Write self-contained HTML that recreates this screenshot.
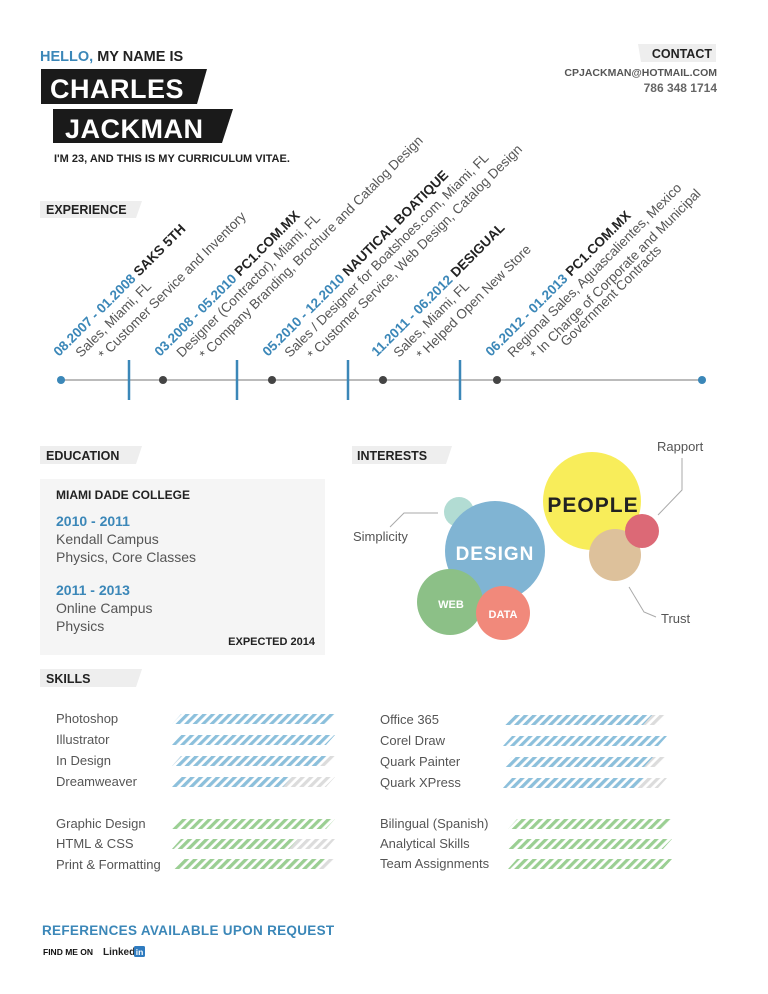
<!DOCTYPE html>
<html><head><meta charset="utf-8"><style>
html,body{margin:0;padding:0;background:#fff}
svg{display:block;font-family:"Liberation Sans",sans-serif}
.b{font-weight:bold}
.g{fill:#555}
</style></head><body>
<svg width="768" height="994" viewBox="0 0 768 994" xmlns="http://www.w3.org/2000/svg">
<defs>
<pattern id="pb" width="6" height="6" patternUnits="userSpaceOnUse" patternTransform="rotate(45)"><rect width="3.2" height="6" fill="#8cc0dc"/></pattern>
<pattern id="pg" width="6" height="6" patternUnits="userSpaceOnUse" patternTransform="rotate(45)"><rect width="3.2" height="6" fill="#9bcf93"/></pattern>
<pattern id="pn" width="6" height="6" patternUnits="userSpaceOnUse" patternTransform="rotate(45)"><rect width="3.2" height="6" fill="#dcdcdc"/></pattern>
</defs>

<!-- header -->
<text x="40" y="61" font-size="14.5" class="b"><tspan fill="#3b87b8">HELLO,</tspan><tspan fill="#222"> MY NAME IS</tspan></text>
<polygon points="41,69 207,69 197,104 41,104" fill="#1a1a1a"/>
<text x="50" y="98" font-size="27" class="b" fill="#fff" letter-spacing="0.5">CHARLES</text>
<polygon points="53,109 233,109 222,143 53,143" fill="#1a1a1a"/>
<text x="65" y="138" font-size="27" class="b" fill="#fff" letter-spacing="0.5">JACKMAN</text>
<text x="54" y="162" font-size="11" class="b" fill="#222">I'M 23, AND THIS IS MY CURRICULUM VITAE.</text>

<polygon points="638,44 716,44 716,62 641,62" fill="#eee"/>
<text x="712" y="58" font-size="12.5" class="b" fill="#222" text-anchor="end">CONTACT</text>
<text x="717" y="76" font-size="10.5" class="b" fill="#555" text-anchor="end">CPJACKMAN@HOTMAIL.COM</text>
<text x="717" y="92" font-size="12" class="b" fill="#666" text-anchor="end">786 348 1714</text>

<!-- section headers -->
<polygon points="40,201 142,201 136,218 40,218" fill="#eee"/>
<text x="46" y="214" font-size="12.5" class="b" fill="#222">EXPERIENCE</text>
<polygon points="40,446 142,446 136,464 40,464" fill="#eee"/>
<text x="46" y="460" font-size="12.5" class="b" fill="#222">EDUCATION</text>
<polygon points="352,446 452,446 446,464 352,464" fill="#eee"/>
<text x="357" y="460" font-size="12.5" class="b" fill="#222">INTERESTS</text>
<polygon points="40,669 142,669 136,687 40,687" fill="#eee"/>
<text x="46" y="683" font-size="12.5" class="b" fill="#222">SKILLS</text>

<!-- experience rotated -->
<g font-size="13.5">
<text transform="translate(59,357) rotate(-45)" class="b"><tspan fill="#3b87b8">08.2007 - 01.2008 </tspan><tspan fill="#222">SAKS 5TH</tspan></text>
<text transform="translate(81,358) rotate(-45)" class="g">Sales, Miami, FL</text>
<text transform="translate(104,360) rotate(-45)" class="g">* Customer Service and Inventory</text>

<text transform="translate(160,357) rotate(-45)" class="b"><tspan fill="#3b87b8">03.2008 - 05.2010 </tspan><tspan fill="#222">PC1.COM.MX</tspan></text>
<text transform="translate(182,358) rotate(-45)" class="g">Designer (Contractor), Miami, FL</text>
<text transform="translate(205,360) rotate(-45)" class="g">* Company Branding, Brochure and Catalog Design</text>

<text transform="translate(268,357) rotate(-45)" class="b"><tspan fill="#3b87b8">05.2010 - 12.2010 </tspan><tspan fill="#222">NAUTICAL BOATIQUE</tspan></text>
<text transform="translate(290,358) rotate(-45)" class="g">Sales / Designer for Boatshoes.com, Miami, FL</text>
<text transform="translate(313,360) rotate(-45)" class="g">* Customer Service, Web Design, Catalog Design</text>

<text transform="translate(377,357) rotate(-45)" class="b"><tspan fill="#3b87b8">11.2011 - 06.2012 </tspan><tspan fill="#222">DESIGUAL</tspan></text>
<text transform="translate(399,358) rotate(-45)" class="g">Sales, Miami, FL</text>
<text transform="translate(422,360) rotate(-45)" class="g">* Helped Open New Store</text>

<text transform="translate(491,357) rotate(-45)" class="b"><tspan fill="#3b87b8">06.2012 - 01.2013 </tspan><tspan fill="#222">PC1.COM.MX</tspan></text>
<text transform="translate(513,358) rotate(-45)" class="g">Regional Sales, Aguascalientes, Mexico</text>
<text transform="translate(536,360) rotate(-45)" class="g">* In Charge of Corporate and Municipal</text>
<text transform="translate(566,347) rotate(-45)" class="g">Government Contracts</text>
</g>

<!-- timeline -->
<line x1="61" y1="380" x2="702" y2="380" stroke="#bbb" stroke-width="2"/>
<g stroke="#3b87b8" stroke-width="2.5">
<line x1="129" y1="360" x2="129" y2="400"/><line x1="237" y1="360" x2="237" y2="400"/>
<line x1="348" y1="360" x2="348" y2="400"/><line x1="460" y1="360" x2="460" y2="400"/>
</g>
<circle cx="61" cy="380" r="4" fill="#3b87b8"/><circle cx="702" cy="380" r="4" fill="#3b87b8"/>
<g fill="#444"><circle cx="163" cy="380" r="4"/><circle cx="272" cy="380" r="4"/><circle cx="383" cy="380" r="4"/><circle cx="497" cy="380" r="4"/></g>

<!-- education -->
<rect x="40" y="479" width="285" height="176" fill="#f5f5f5"/>
<text x="56" y="499" font-size="12" class="b" fill="#222">MIAMI DADE COLLEGE</text>
<text x="56" y="526" font-size="14" class="b" fill="#3b87b8">2010 - 2011</text>
<text x="56" y="544" font-size="14" class="g">Kendall Campus</text>
<text x="56" y="562" font-size="14" class="g">Physics, Core Classes</text>
<text x="56" y="595" font-size="14" class="b" fill="#3b87b8">2011 - 2013</text>
<text x="56" y="613" font-size="14" class="g">Online Campus</text>
<text x="56" y="631" font-size="14" class="g">Physics</text>
<text x="315" y="645" font-size="11" class="b" fill="#222" text-anchor="end">EXPECTED 2014</text>

<!-- interests -->
<g opacity="0.85">
<circle cx="459" cy="512" r="15" fill="#a5d6cc"/>
<circle cx="495" cy="551" r="50" fill="#6aa7cc"/>
<circle cx="450" cy="602" r="33" fill="#78b673"/>
<circle cx="503" cy="613" r="27" fill="#ef7565"/>
<circle cx="592" cy="501" r="49" fill="#f7ea3e"/>
<circle cx="615" cy="555" r="26" fill="#d8b78a"/>
<circle cx="642" cy="531" r="17" fill="#d6505f"/>
</g>
<text x="495" y="560" font-size="19" class="b" fill="#fff" text-anchor="middle" letter-spacing="1">DESIGN</text>
<text x="451" y="608" font-size="11" class="b" fill="#fff" text-anchor="middle">WEB</text>
<text x="503" y="618" font-size="11" class="b" fill="#fff" text-anchor="middle">DATA</text>
<text x="593" y="512" font-size="21" class="b" fill="#222" text-anchor="middle" letter-spacing="1">PEOPLE</text>
<g stroke="#aaa" stroke-width="1" fill="none">
<polyline points="438,513 404,513 390,527"/>
<polyline points="658,515 682,490 682,458"/>
<polyline points="629,587 644,612 656,617"/>
</g>
<text x="353" y="541" font-size="13" class="g">Simplicity</text>
<text x="657" y="451" font-size="13" class="g">Rapport</text>
<text x="661" y="623" font-size="13" class="g">Trust</text>

<!-- skills -->
<g font-size="13" class="g">
<text x="56" y="723">Photoshop</text><text x="56" y="744">Illustrator</text><text x="56" y="765">In Design</text><text x="56" y="786">Dreamweaver</text>
<text x="56" y="828">Graphic Design</text><text x="56" y="848">HTML &amp; CSS</text><text x="56" y="869">Print &amp; Formatting</text>
<text x="380" y="724">Office 365</text><text x="380" y="745">Corel Draw</text><text x="380" y="766">Quark Painter</text><text x="380" y="787">Quark XPress</text>
<text x="380" y="828">Bilingual (Spanish)</text><text x="380" y="848">Analytical Skills</text><text x="380" y="868">Team Assignments</text>
</g>
<g>
<polygon points="172,724 181,714 335,714 326,724" fill="url(#pb)"/>
<polygon points="172,745 181,735 335,735 326,745" fill="url(#pb)"/>
<polygon points="172,766 181,756 335,756 326,766" fill="url(#pn)"/><polygon points="172,766 181,756 327,756 318,766" fill="url(#pb)"/>
<polygon points="172,787 181,777 335,777 326,787" fill="url(#pn)"/><polygon points="172,787 181,777 292,777 283,787" fill="url(#pb)"/>
<polygon points="172,829 181,819 335,819 326,829" fill="url(#pg)"/>
<polygon points="172,849 181,839 335,839 326,849" fill="url(#pn)"/><polygon points="172,849 181,839 298,839 289,849" fill="url(#pg)"/>
<polygon points="172,869 181,859 335,859 326,869" fill="url(#pn)"/><polygon points="172,869 181,859 325,859 316,869" fill="url(#pg)"/>
<polygon points="503,725 512,715 667,715 658,725" fill="url(#pn)"/><polygon points="503,725 512,715 652,715 643,725" fill="url(#pb)"/>
<polygon points="503,746 512,736 667,736 658,746" fill="url(#pb)"/>
<polygon points="503,767 512,757 667,757 658,767" fill="url(#pn)"/><polygon points="503,767 512,757 653,757 644,767" fill="url(#pb)"/>
<polygon points="503,788 512,778 667,778 658,788" fill="url(#pn)"/><polygon points="503,788 512,778 646,778 637,788" fill="url(#pb)"/>
<polygon points="508,829 517,819 672,819 663,829" fill="url(#pg)"/>
<polygon points="508,849 517,839 672,839 663,849" fill="url(#pg)"/>
<polygon points="508,869 517,859 672,859 663,869" fill="url(#pg)"/>
</g>

<!-- footer -->
<text x="42" y="935" font-size="13.5" class="b" fill="#3b87b8" letter-spacing="0.3">REFERENCES AVAILABLE UPON REQUEST</text>
<text x="43" y="955" font-size="8.5" class="b" fill="#111">FIND ME ON</text>
<text x="103" y="955" font-size="10" class="b" fill="#222">Linked</text>
<rect x="134" y="946" width="11" height="11" rx="1.5" fill="#2f7bbf"/>
<text x="139.5" y="955" font-size="8.5" class="b" fill="#fff" text-anchor="middle">in</text>
</svg>
</body></html>
